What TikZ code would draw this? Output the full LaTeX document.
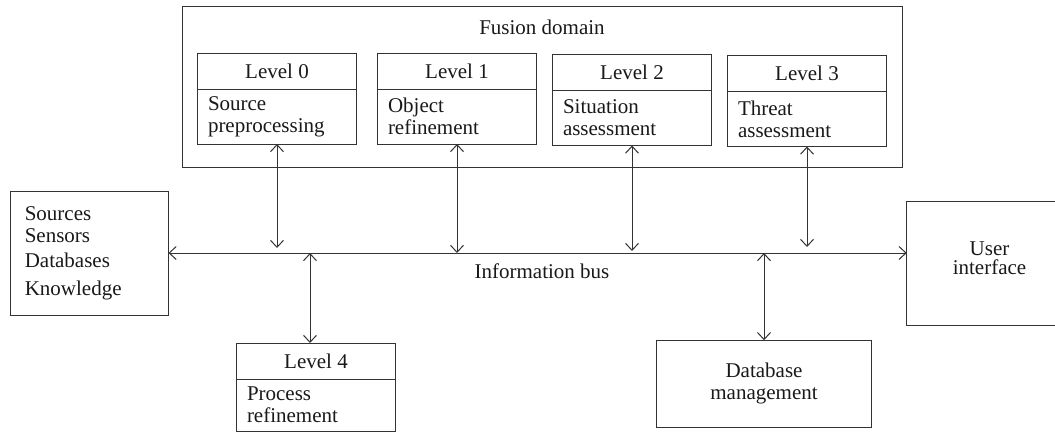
\documentclass[tikz,border=0pt]{standalone}
\usepackage{fontspec}
\setmainfont{Liberation Serif}
\usetikzlibrary{arrows.meta,positioning}

\begin{document}
\begin{tikzpicture}[x=1pt,y=-1pt,
    every node/.style={font=\fontsize{21pt}{22pt}\selectfont, text=black!90},
    box/.style={draw=black!80, line width=1pt, inner sep=0pt, outer sep=0pt},
    lvhead/.style={box, minimum width=159pt, minimum height=36pt},
    lvbody/.style={box, minimum width=159pt, minimum height=55pt,
        text width=138pt, inner xsep=10.5pt, align=left, below=0pt of #1},
    link/.style={draw=black!80, line width=1pt,
        {Straight Barb[length=7pt,width=13pt]}-{Straight Barb[length=7pt,width=13pt]}}]

	\useasboundingbox (0,0) rectangle (1055,432);

	% fusion domain
	\node[box, minimum width=720pt, minimum height=161pt] (fus) at (542,86.5) {};
	\node (fuslbl) at (542,27) {Fusion domain};

	\node[lvhead] (l0h) at (277,71) {Level 0};
	\node[lvbody=l0h] (l0b) {Source\\preprocessing};
	\node[lvhead] (l1h) at (457,71) {Level 1};
	\node[lvbody=l1h] (l1b) {Object\\refinement};
	\node[lvhead] (l2h) at (632,72.5) {Level 2};
	\node[lvbody=l2h] (l2b) {Situation\\assessment};
	\node[lvhead] (l3h) at (807,73.5) {Level 3};
	\node[lvbody=l3h] (l3b) {Threat\\assessment};

	% outside the bus
	\node[box, minimum width=158pt, minimum height=124pt, text width=129.4pt,
        inner xsep=14.3pt, align=left] (src) at (89.5,253.8)
        {Sources\\Sensors\\[3pt]Databases\\[6pt]Knowledge};
	\node[box, minimum width=168pt, minimum height=124pt] (ui) at (990.7,263.8) {};
	\node[align=center, font=\fontsize{21pt}{19pt}\selectfont] (uilbl)
        at (989.5,258) {User\\interface};
	\node[box, minimum width=215pt, minimum height=87pt, align=center] (db)
        at (764,383.7) {Database\\management};
	\node[lvhead] (l4h) at (316,361) {Level 4};
	\node[lvbody=l4h, minimum height=52pt] (l4b) {Process\\refinement};

	% information bus
	\coordinate (busy) at (0,253);
	\draw[link] (src.east |- busy) -- (ui.west |- busy);
	\node (buslbl) at (542,271) {Information bus};

	\draw[link, shorten >=5pt] (l0b.south) -- (l0b.south |- busy);
	\draw[link] (l1b.south) -- (l1b.south |- busy);
	\draw[link, shorten >=2pt] (l2b.south) -- (l2b.south |- busy);
	\draw[link, shorten >=6pt] (l3b.south) -- (l3b.south |- busy);
	\coordinate (l4x) at ([xshift=-6pt]l4h.north);
	\draw[link] (l4x |- busy) -- (l4x);
	\draw[link] (db.north) -- (db.north |- busy);
\end{tikzpicture}
\end{document}
